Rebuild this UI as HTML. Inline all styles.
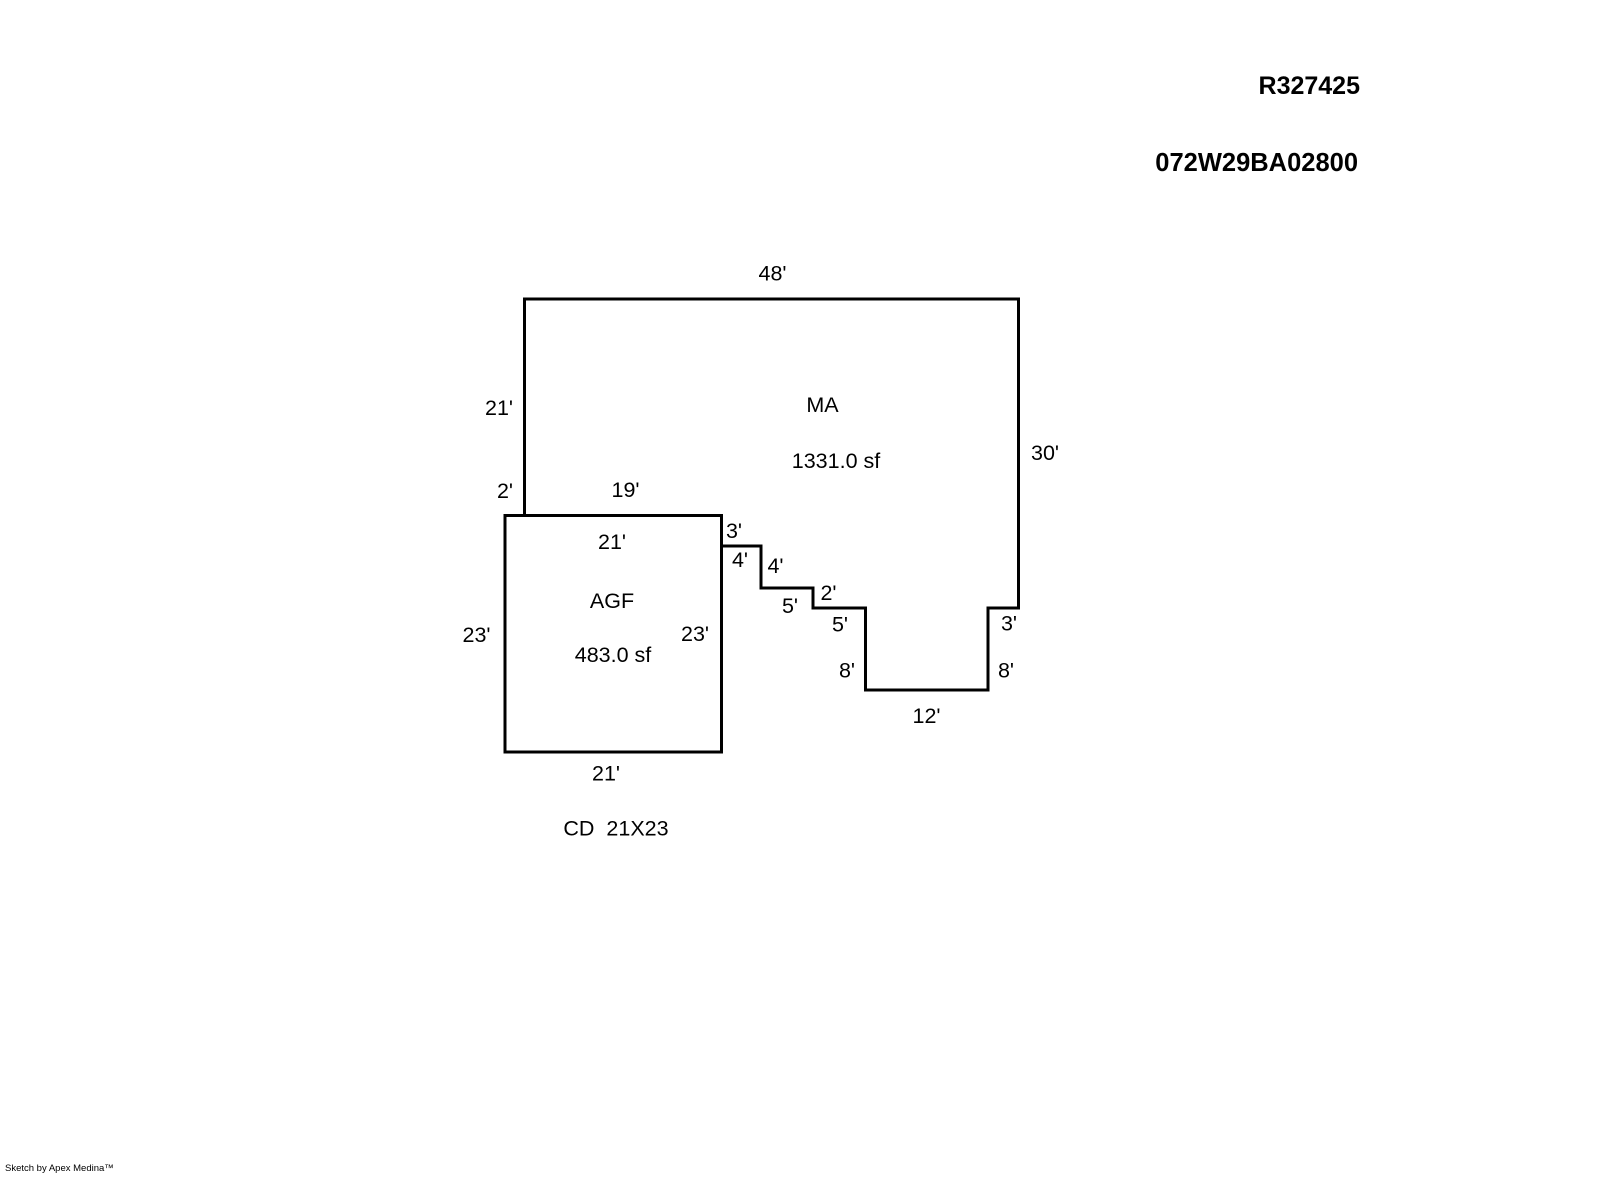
<!DOCTYPE html>
<html><head><style>
body{margin:0;background:#fff;width:1600px;height:1174px;overflow:hidden}
svg text{font-family:"Liberation Sans",Arial,sans-serif;font-size:21.5px;fill:#000}
</style></head><body>
<svg width="1600" height="1174" xmlns="http://www.w3.org/2000/svg">
<g fill="none" stroke="#000" stroke-width="3">
<polyline points="524.5,515.5 524.5,299 1018.5,299 1018.5,608 988,608 988,690 865.5,690 865.5,608 813,608 813,588 761,588 761,546 721.5,546"/>
<rect x="505" y="515.5" width="216.5" height="236.5"/>
</g>
<g text-anchor="middle" dominant-baseline="central">
<text x="772.5" y="273.5">48'</text>
<text x="499" y="408">21'</text>
<text x="822.5" y="405">MA</text>
<text x="836" y="461">1331.0 sf</text>
<text x="1045" y="453">30'</text>
<text x="505" y="491">2'</text>
<text x="625.5" y="490">19'</text>
<text x="734" y="531">3'</text>
<text x="612" y="542">21'</text>
<text x="740" y="560">4'</text>
<text x="775.5" y="566">4'</text>
<text x="612" y="601">AGF</text>
<text x="828.5" y="593">2'</text>
<text x="790" y="606">5'</text>
<text x="476.5" y="635">23'</text>
<text x="695" y="634">23'</text>
<text x="613" y="655">483.0 sf</text>
<text x="840" y="624.5">5'</text>
<text x="1009" y="623.5">3'</text>
<text x="847" y="670.5">8'</text>
<text x="1006" y="670.5">8'</text>
<text x="926.5" y="716">12'</text>
<text x="606" y="773.5">21'</text>
<text x="616" y="828.5">CD&#160; 21X23</text>
</g>
<g text-anchor="end" dominant-baseline="central">
<text x="1360" y="86" style="font-size:25px;font-weight:bold">R327425</text>
<text x="1358" y="163" style="font-size:25.5px;font-weight:bold">072W29BA02800</text>
</g>
<text x="5" y="1171" style="font-size:9.5px">Sketch by Apex Medina™</text>
</svg>
</body></html>
